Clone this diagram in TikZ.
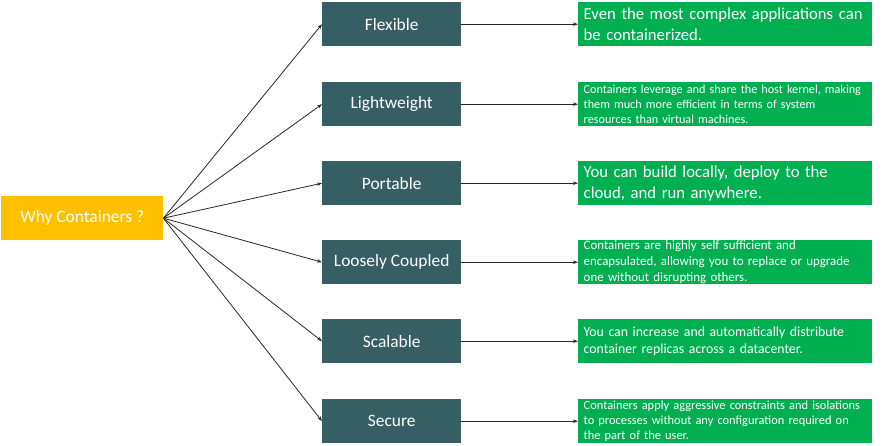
\documentclass[tikz,border=0pt]{standalone}
\usepackage{fontspec}
\setmainfont{Carlito}
\usetikzlibrary{arrows.meta}
\definecolor{tealc}{HTML}{355F62}
\definecolor{yellowc}{HTML}{FFC000}
\definecolor{greenc}{HTML}{00B050}
\begin{document}
\begin{tikzpicture}[x=1pt,y=-1pt,
  root/.style={fill=yellowc,text=white,minimum width=162pt,minimum height=44pt,inner sep=0pt,anchor=north west,font=\fontsize{17.4}{20}\selectfont},
  feat/.style={fill=tealc,text=white,minimum width=139pt,minimum height=44pt,inner sep=0pt,anchor=north west,font=\fontsize{17.4}{20}\selectfont},
  desc/.style={fill=greenc,text=white,minimum width=294pt,minimum height=44pt,text width=283pt,inner xsep=5.5pt,inner ysep=0pt,align=left,anchor=north west},
  big/.style={font=\fontsize{16.7}{20.7}\selectfont},
  small/.style={font=\fontsize{12.2}{14.7}\selectfont},
  mid/.style={font=\fontsize{12.9}{15.9}\selectfont},
  sec/.style={font=\fontsize{12.4}{15}\selectfont},
  med/.style={font=\fontsize{13.8}{16.7}\selectfont},
  arr/.style={-{Stealth[length=5pt,width=3.5pt]},line width=0.8pt,draw=black!85}
]
\useasboundingbox (0,0) rectangle (885,446);
\node[root] (why) at (1,196) {Why Containers ?};
\node[feat] (f1) at (322,2) {Flexible};
\node[feat] (f2) at (322,82) {Lightweight};
\node[feat] (f3) at (322,161) {Portable};
\node[feat] (f4) at (322,240) {Loosely Coupled};
\node[feat] (f5) at (322,319) {Scalable};
\node[feat] (f6) at (322,399) {Secure};
\node[desc,big] (d1) at (578,2) {Even the most complex applications can\\be containerized.};
\node[desc,small] (d2) at (578,82) {Containers leverage and share the host kernel, making\\them much more efficient in terms of system\\resources than virtual machines.};
\node[desc,big] (d3) at (578,161) {You can build locally, deploy to the\\cloud, and run anywhere.};
\node[desc,mid] (d4) at (578,240) {Containers are highly self sufficient and\\encapsulated, allowing you to replace or upgrade\\one without disrupting others.};
\node[desc,med] (d5) at (578,319) {You can increase and automatically distribute\\container replicas across a datacenter.};
\node[desc,sec] (d6) at (578,399) {Containers apply aggressive constraints and isolations\\to processes without any configuration required on\\the part of the user.};
\foreach \i in {1,...,6}{
  \draw[arr] (why.east) -- (f\i.west);
  \draw[arr] (f\i.east) -- (d\i.west);
}
\end{tikzpicture}
\end{document}
